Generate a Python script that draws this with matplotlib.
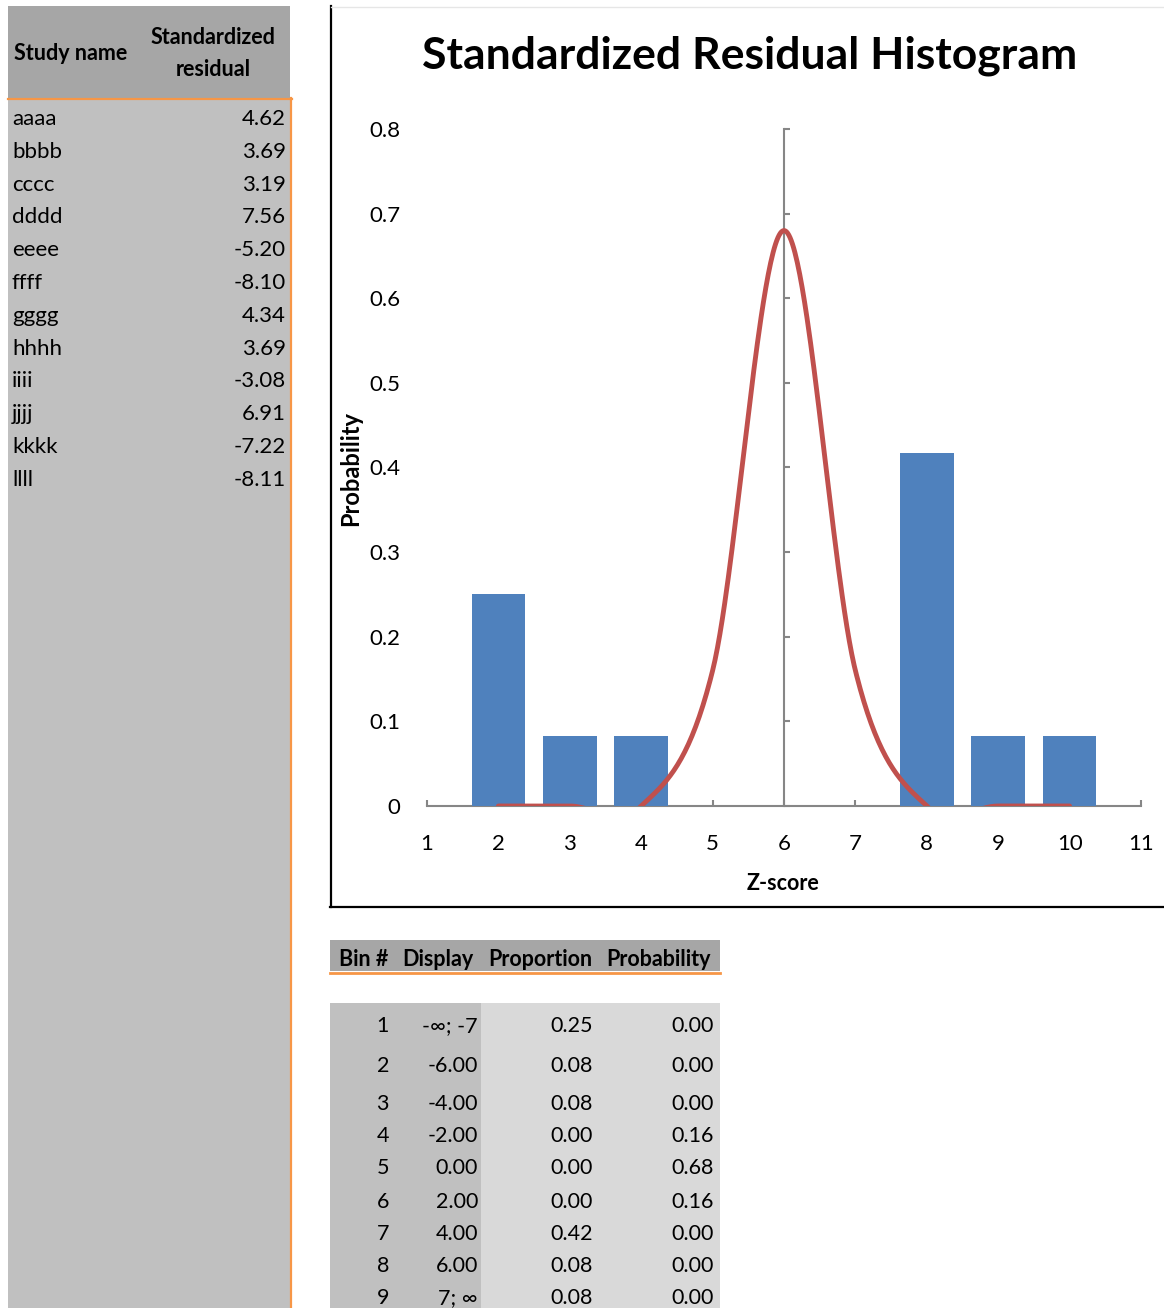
import matplotlib
matplotlib.use("Agg")
import matplotlib.pyplot as plt
import numpy as np
from matplotlib.patches import Rectangle
from matplotlib.lines import Line2D

plt.rcParams['font.family'] = ['Lato', 'DejaVu Sans']

# ---------------- data ----------------
study_names = ["aaaa", "bbbb", "cccc", "dddd", "eeee", "ffff", "gggg", "hhhh",
               "iiii", "jjjj", "kkkk", "llll"]
residuals = [4.62, 3.69, 3.19, 7.56, -5.20, -8.10, 4.34, 3.69, -3.08, 6.91, -7.22, -8.11]

bin_numbers = [1, 2, 3, 4, 5, 6, 7, 8, 9]
bin_display = ["-\u221e; -7", "-6.00", "-4.00", "-2.00", "0.00", "2.00", "4.00", "6.00", "7; \u221e"]
proportions = [0.25, 0.083, 0.083, 0.0, 0.0, 0.0, 0.417, 0.083, 0.083]
probabilities = [0.0, 0.0, 0.0, 0.16, 0.68, 0.16, 0.0, 0.0, 0.0]

x_ticks = [1, 2, 3, 4, 5, 6, 7, 8, 9, 10, 11]
y_ticks = [0, 0.1, 0.2, 0.3, 0.4, 0.5, 0.6, 0.7, 0.8]
y_tick_labels = ["0", "0.1", "0.2", "0.3", "0.4", "0.5", "0.6", "0.7", "0.8"]

title = "Standardized Residual Histogram"
x_label = "Z-score"
y_label = "Probability"

# ---------------- styles ----------------
W, H = 1164, 1308
BAR = "#4F81BD"
RED = "#C0504D"
AXGRAY = "#868686"
PANEL = "#C0C0C0"
HEAD = "#A6A6A6"
LIGHT = "#D9D9D9"
ORANGE = "#F79646"

fig = plt.figure(figsize=(W / 100, H / 100), dpi=100)
fig.patch.set_facecolor("white")

# background / table layer in pixel coordinates
bg = fig.add_axes([0, 0, 1, 1], zorder=0)
bg.set_xlim(0, W)
bg.set_ylim(H, 0)
bg.axis("off")

# left panel
bg.add_patch(Rectangle((8, 6), 282, H - 6, color=PANEL, lw=0))
bg.add_patch(Rectangle((8, 6), 282, 92, color=HEAD, lw=0))
bg.add_line(Line2D([8, 292], [98.5, 98.5], color=ORANGE, lw=1.6))
bg.add_line(Line2D([290.5, 290.5], [98, H], color=ORANGE, lw=1.6))

hfs = 15.5
bg.text(14, 54, "Study name", fontsize=hfs, fontweight="bold", ha="left", va="center")
bg.text(213, 38, "Standardized", fontsize=hfs, fontweight="bold", ha="center", va="center")
bg.text(213, 70, "residual", fontsize=hfs, fontweight="bold", ha="center", va="center")

rfs = 16
for i, (nm, rv) in enumerate(zip(study_names, residuals)):
    y = 119 + i * 32.8
    bg.text(12, y, nm, fontsize=rfs, ha="left", va="center")
    bg.text(286, y, f"{rv:.2f}", fontsize=rfs, ha="right", va="center")

# chart frame
bg.add_line(Line2D([331, 331], [6, 907], color="black", lw=1.6))
bg.add_line(Line2D([330, W], [906.5, 906.5], color="black", lw=1.6))
bg.add_line(Line2D([331, W], [6.5, 6.5], color="#E6E6E6", lw=1))

# bottom table
bg.add_patch(Rectangle((330, 940), 390, 31, color=HEAD, lw=0))
bg.add_line(Line2D([330, 720], [972.5, 972.5], color=ORANGE, lw=2))
bg.add_patch(Rectangle((330, 1003), 151, H - 1003, color=PANEL, lw=0))
bg.add_patch(Rectangle((481, 1003), 239, H - 1003, color=LIGHT, lw=0))

tfs = 15.5
hy = 960
bg.text(388, hy, "Bin #", fontsize=tfs, fontweight="bold", ha="right", va="center")
bg.text(474, hy, "Display", fontsize=tfs, fontweight="bold", ha="right", va="center")
bg.text(592, hy, "Proportion", fontsize=tfs, fontweight="bold", ha="right", va="center")
bg.text(711, hy, "Probability", fontsize=tfs, fontweight="bold", ha="right", va="center")

row_y = [1026, 1066, 1104, 1136, 1168, 1202, 1234, 1266, 1298]
for yy, b, d, p, q in zip(row_y, bin_numbers, bin_display, proportions, probabilities):
    bg.text(389, yy, str(b), fontsize=tfs, ha="right", va="center")
    bg.text(478, yy, d, fontsize=tfs, ha="right", va="center")
    bg.text(593, yy, f"{p:.2f}", fontsize=tfs, ha="right", va="center")
    bg.text(714, yy, f"{q:.2f}", fontsize=tfs, ha="right", va="center")

# ---------------- chart ----------------
px_left, px_right = 427, 1141
px_top, px_bottom = 129, 806
ax = fig.add_axes([px_left / W, (H - px_bottom) / H, (px_right - px_left) / W,
                   (px_bottom - px_top) / H], zorder=2)
ax.patch.set_alpha(0)
ax.set_xlim(1, 11)
ax.set_ylim(0, 0.8)

xpos = np.array(bin_numbers) + 1
ax.bar(xpos, proportions, width=0.75, color=BAR, zorder=2)

# Excel-style smoothed line (Catmull-Rom through the probability points)
px = np.asarray(xpos, float)
py = np.asarray(probabilities, float)
P = np.concatenate([[py[0]], py, [py[-1]]])
X = np.concatenate([[px[0]], px, [px[-1]]])
cx, cy = [], []
t = np.linspace(0, 1, 60)
for k in range(1, len(P) - 2):
    p0, p1, p2, p3 = P[k - 1], P[k], P[k + 1], P[k + 2]
    m1 = (p2 - p0) / 2
    m2 = (p3 - p1) / 2
    h00 = 2 * t**3 - 3 * t**2 + 1
    h10 = t**3 - 2 * t**2 + t
    h01 = -2 * t**3 + 3 * t**2
    h11 = t**3 - t**2
    cy.append(h00 * p1 + h10 * m1 + h01 * p2 + h11 * m2)
    cx.append(X[k] + t * (X[k + 1] - X[k]))
cx = np.concatenate(cx)
cy = np.concatenate(cy)
ax.plot(cx, cy, color=RED, lw=3.5, solid_capstyle="round", zorder=3)

for s in ["top", "right"]:
    ax.spines[s].set_visible(False)
ax.spines["left"].set_position(("data", 6))
ax.spines["left"].set_color(AXGRAY)
ax.spines["left"].set_linewidth(1.5)
ax.spines["bottom"].set_color(AXGRAY)
ax.spines["bottom"].set_linewidth(1.5)
ax.spines["bottom"].set_zorder(1)

ax.set_yticks(y_ticks)
ax.tick_params(axis="y", direction="in", length=4.5, width=1.5, color=AXGRAY,
               labelleft=False)
ax.set_xticks(x_ticks)
ax.set_xticklabels([str(v) for v in x_ticks])
ax.tick_params(axis="x", direction="in", length=4.5, width=1.5, color=AXGRAY,
               labelsize=16, pad=20)

sec = ax.secondary_yaxis("left")
sec.spines["left"].set_visible(False)
sec.set_yticks(y_ticks)
sec.set_yticklabels(y_tick_labels)
sec.tick_params(length=0, pad=19, labelsize=16)

fig.text(750 / W, 1 - 56 / H, title, fontsize=32, fontweight="bold",
         ha="center", va="center")
fig.text(783 / W, 1 - 884 / H, x_label, fontsize=15.5, fontweight="bold",
         ha="center", va="center")
fig.text(351 / W, 1 - 468 / H, y_label, fontsize=17, fontweight="bold",
         ha="center", va="center", rotation=90)

fig.savefig("out.png", dpi=100)
